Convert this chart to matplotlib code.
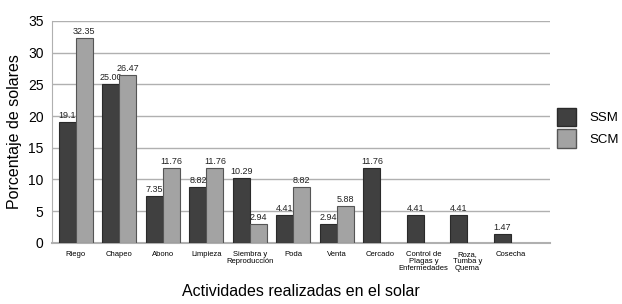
import numpy as np
import matplotlib.pyplot as plt
from matplotlib.patches import Patch

categories = ['Riego', 'Chapeo', 'Abono', 'Limpieza', 'Siembra y\nReproducción', 'Poda',
              'Venta', 'Cercado', 'Control de\nPlagas y\nEnfermedades', 'Roza,\nTumba y\nQuema',
              'Cosecha']
ssm = [19.1, 25.00, 7.35, 8.82, 10.29, 4.41, 2.94, 11.76, 4.41, 4.41, 1.47]
scm = [32.35, 26.47, 11.76, 11.76, 2.94, 8.82, 5.88, None, None, None, None]
ssm_labels = ['19.1', '25.00', '7.35', '8.82', '10.29', '4.41', '2.94', '11.76', '4.41', '4.41', '1.47']
scm_labels = ['32.35', '26.47', '11.76', '11.76', '2.94', '8.82', '5.88']

plt.rcParams['font.family'] = ['Liberation Sans', 'DejaVu Sans']
narrow = ['Liberation Sans Narrow', 'Liberation Sans']

fig = plt.figure(figsize=(6.22, 3.04), dpi=100)
ax = fig.add_axes([0.0836, 0.201, 0.8005, 0.730])

x = np.arange(len(categories))
w = 0.39
dark = '#404040'
light = '#a3a3a3'
edge = '#2a2a2a'

for i, v in enumerate(ssm):
    ax.bar(x[i] - w / 2, v, w, color=dark, edgecolor=edge, linewidth=0.8, zorder=3)
    ax.text(x[i] - w / 2, v + 0.3, ssm_labels[i], ha='center', va='bottom',
            fontsize=6.5, family=narrow, color='#222222')
for i, v in enumerate(scm):
    if v is None:
        continue
    ax.bar(x[i] + w / 2, v, w, color=light, edgecolor='#555555', linewidth=0.8, zorder=3)
    ax.text(x[i] + w / 2, v + 0.3, scm_labels[i], ha='center', va='bottom',
            fontsize=6.5, family=narrow, color='#222222')

ax.set_xlim(-0.55, 10.9)
ax.set_ylim(0, 35)
ax.set_yticks(range(0, 36, 5))
ax.yaxis.grid(True, color='#b0b0b0', linewidth=1.0, zorder=0)
ax.set_axisbelow(True)

for s in ['top', 'right']:
    ax.spines[s].set_visible(False)
ax.spines['left'].set_color('#b0b0b0')
ax.spines['bottom'].set_color('#b0b0b0')
ax.spines['bottom'].set_linewidth(1.5)

ax.set_xticks(x)
ax.set_xticklabels(categories, fontsize=5.5, family=narrow, linespacing=0.95, va='top')
ax.tick_params(axis='x', length=0, pad=6)
ax.tick_params(axis='y', length=0, labelsize=10, pad=6)

ax.set_ylabel('Porcentaje de solares', fontsize=11.5)
ax.set_xlabel('Actividades realizadas en el solar', fontsize=11.5, labelpad=9)

handles = [Patch(facecolor=dark, edgecolor=edge, label='SSM'),
           Patch(facecolor=light, edgecolor='#555555', label='SCM')]
fig.legend(handles=handles, loc='upper left', bbox_to_anchor=(0.895, 0.645), frameon=False,
           fontsize=9.5, handlelength=1.45, handleheight=1.75, handletextpad=1.05,
           labelspacing=0.25, borderaxespad=0, borderpad=0)

fig.savefig('out.png', dpi=100)
